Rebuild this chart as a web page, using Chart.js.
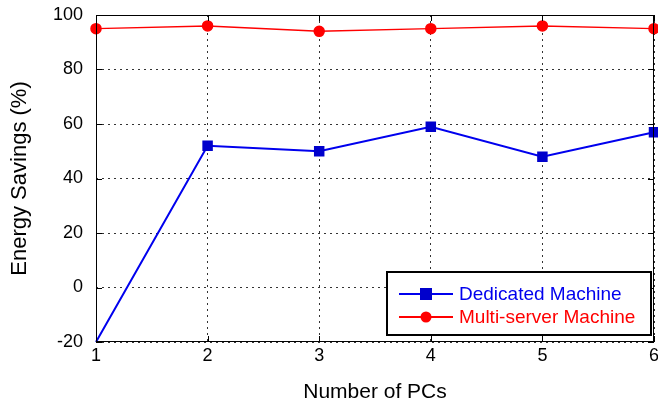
<!DOCTYPE html>
<html>
<head>
<meta charset="utf-8">
<script src="https://cdn.jsdelivr.net/npm/chart.js@4/dist/chart.umd.min.js"></script>
<style>
  html, body { margin: 0; padding: 0; background: #fff; }
  #wrap { width: 658px; height: 405px; }
</style>
</head>
<body>
<div id="wrap"><canvas id="chart" width="658" height="405"></canvas></div>
<script>
const pcs = [1, 2, 3, 4, 5, 6];
const dedicated = [-20, 52, 50, 59, 48, 57];
const multiServer = [95, 96, 94, 95, 96, 95];
const yTicks = [-20, 0, 20, 40, 60, 80, 100];

const FONT = "'Liberation Sans', Arial, sans-serif";

// frame + short tick marks on all four edges
const framePlugin = {
    id: "frame",
    afterDraw(chart) {
        const ctx = chart.ctx;
        const a = chart.chartArea;
        const y = chart.scales.y;
        const x = chart.scales.x;
        ctx.save();
        ctx.strokeStyle = "#000";
        ctx.lineWidth = 1;
        ctx.strokeRect(a.left + 0.5, a.top + 0.5, a.right - a.left - 1, a.bottom - a.top - 1);
        ctx.beginPath();
        yTicks.forEach(function(t) {
            const py = Math.round(y.getPixelForValue(t)) + 0.5;
            ctx.moveTo(a.right - 6, py);
            ctx.lineTo(a.right, py);
            ctx.moveTo(a.left, py);
            ctx.lineTo(a.left + 6, py);
        });
        pcs.forEach(function(t) {
            const px = Math.round(x.getPixelForValue(t)) + 0.5;
            ctx.moveTo(px, a.bottom);
            ctx.lineTo(px, a.bottom - 6);
            ctx.moveTo(px, a.top);
            ctx.lineTo(px, a.top + 6);
        });
        ctx.stroke();
        ctx.restore();
    }
};

// legend box drawn inside the plot area, bottom right
const legendPlugin = {
    id: "boxLegend",
    afterDraw(chart) {
        const ctx = chart.ctx;
        const a = chart.chartArea;
        const w = 264, h = 63;
        const x0 = a.right - w - 3;
        const y0 = a.bottom - h - 7;
        ctx.save();
        ctx.fillStyle = "#fff";
        ctx.fillRect(x0, y0, w, h);
        ctx.strokeStyle = "#000";
        ctx.lineWidth = 2;
        ctx.strokeRect(x0, y0, w, h);
        ctx.font = "19px " + FONT;
        ctx.textBaseline = "middle";
        chart.data.datasets.forEach(function(ds, i) {
            const cy = y0 + 22 + i * 23;
            ctx.strokeStyle = ds.borderColor;
            ctx.lineWidth = 2;
            ctx.beginPath();
            ctx.moveTo(x0 + 12, cy);
            ctx.lineTo(x0 + 66, cy);
            ctx.stroke();
            ctx.fillStyle = ds.pointBackgroundColor;
            if (ds.pointStyle === "rect") {
                ctx.fillRect(x0 + 33, cy - 6, 12, 12);
            } else {
                ctx.beginPath();
                ctx.arc(x0 + 39, cy, 5.5, 0, Math.PI * 2);
                ctx.fill();
            }
            ctx.fillStyle = ds.textColor;
            ctx.fillText(ds.label, x0 + 72, cy + 1);
        });
        ctx.restore();
    }
};

const chartCanvas = document.getElementById("chart").getContext("2d");
const chart = new Chart(chartCanvas, {
    type: "line",
    data: {
        datasets: [{
            label: "Dedicated Machine",
            data: pcs.map(function(p, i) { return { x: p, y: dedicated[i] }; }),
            borderColor: "#0000ee",
            backgroundColor: "#0000cc",
            pointBackgroundColor: "#0000cc",
            pointBorderColor: "#0000cc",
            pointStyle: "rect",
            pointRadius: [0, 6, 6, 6, 6, 6],
            borderWidth: 2,
            textColor: "#0000ee",
            clip: false
        }, {
            label: "Multi-server Machine",
            data: pcs.map(function(p, i) { return { x: p, y: multiServer[i] }; }),
            borderColor: "#ff0000",
            backgroundColor: "#ff0000",
            pointBackgroundColor: "#ff0000",
            pointBorderColor: "#ff0000",
            pointStyle: "circle",
            pointRadius: 5,
            borderWidth: 1.5,
            textColor: "#ff0000",
            clip: false
        }]
    },
    options: {
        responsive: false,
        animation: false,
        layout: { autoPadding: false, padding: { top: 15, right: 4, left: 0, bottom: 0 } },
        plugins: {
            legend: { display: false },
            tooltip: { enabled: false }
        },
        scales: {
            x: {
                type: "linear",
                min: 1,
                max: 6,
                afterBuildTicks: function(scale) {
                    scale.ticks = pcs.map(function(v) { return { value: v }; });
                },
                afterFit: function(scale) {
                    scale.height = 63;
                    scale.paddingLeft = 0;
                    scale.paddingRight = 0;
                },
                grid: {
                    color: "#333",
                    lineWidth: 1,
                    drawTicks: false
                },
                border: { display: false, dash: [2, 4] },
                ticks: {
                    color: "#000",
                    font: { family: FONT, size: 18 },
                    padding: 3,
                    maxRotation: 0,
                    autoSkip: false
                },
                title: {
                    display: true,
                    text: "Number of PCs",
                    color: "#000",
                    font: { family: FONT, size: 21 },
                    padding: { top: 6, bottom: 0 }
                }
            },
            y: {
                min: -20,
                max: 100,
                afterBuildTicks: function(scale) {
                    scale.ticks = yTicks.map(function(v) { return { value: v }; });
                },
                afterFit: function(scale) {
                    scale.width = 96;
                    scale.paddingTop = 0;
                    scale.paddingBottom = 0;
                },
                grid: {
                    color: "#333",
                    lineWidth: 1,
                    drawTicks: false
                },
                border: { display: false, dash: [2, 4] },
                ticks: {
                    color: "#000",
                    font: { family: FONT, size: 18 },
                    padding: 13
                },
                title: {
                    display: true,
                    text: "Energy Savings (%)",
                    color: "#000",
                    font: { family: FONT, size: 22 },
                    padding: { top: 7, bottom: 10 }
                }
            }
        }
    },
    plugins: [framePlugin, legendPlugin]
});
</script>
</body>
</html>
